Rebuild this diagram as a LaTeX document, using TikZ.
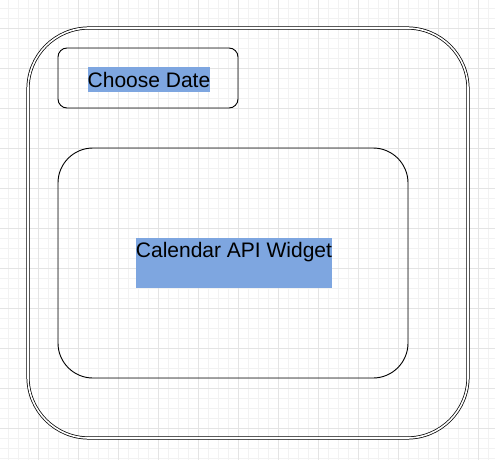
\documentclass[tikz,border=0pt]{standalone}
\usepackage{fontspec}
\setmainfont{Liberation Sans}
\definecolor{gridminor}{HTML}{F2F2F2}
\definecolor{gridmajor}{HTML}{E4E4E4}
\definecolor{labelblue}{HTML}{7EA6E0}
\begin{document}
\begin{tikzpicture}[x=1pt, y=-1pt,
framebox/.style={draw=black, rounded corners=61pt, double, double distance=1.6pt, line width=0.75pt, minimum width=440pt, minimum height=410pt},
roundbox/.style={draw=black, line width=0.9pt, rounded corners=#1},
labelbg/.style={fill=labelblue, inner sep=0pt},
labeltext/.style={inner sep=0pt, font=\fontsize{21}{24}\selectfont},
]
\useasboundingbox (0,0) rectangle (495,460);
%Grid
\foreach \x in {8,18,...,488} \draw[gridminor, line width=0.6pt] (\x,0) -- (\x,460);
\foreach \y in {8,18,...,458} \draw[gridminor, line width=0.6pt] (0,\y) -- (495,\y);
\foreach \x in {38,78,...,478} \draw[gridmajor, line width=0.6pt] (\x,0) -- (\x,460);
\foreach \y in {28,68,...,428} \draw[gridmajor, line width=0.6pt] (0,\y) -- (495,\y);
%Nodes
\node[framebox] at (248,233) (frame) {};
\node[roundbox=9pt, minimum width=180pt, minimum height=60pt] at (148,78) (datebox) {};
\node[labelbg, minimum width=122pt, minimum height=25pt] at (149,79.5) (datebg) {};
\node[labeltext] at (datebg) (datetext) {Choose Date};
\node[roundbox=35pt, minimum width=350pt, minimum height=230pt] at (233,263) (calbox) {};
\node[labelbg, minimum width=196pt, minimum height=50pt] at (234,263) (calbg) {};
\node[labeltext, anchor=north] at ([yshift=-4pt]calbg.north) (caltext) {Calendar API Widget};
\end{tikzpicture}
\end{document}
